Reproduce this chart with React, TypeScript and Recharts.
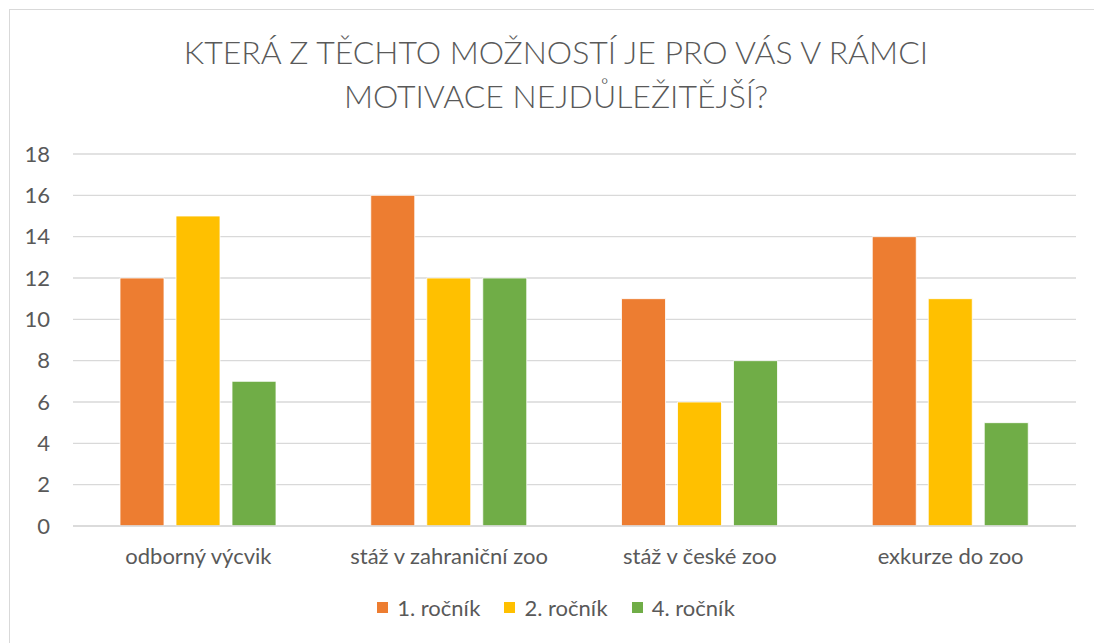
import React from 'react';
import { Bar, BarChart, CartesianGrid, Legend, XAxis, YAxis } from 'recharts';

const categories = ['odborný výcvik', 'stáž v zahraniční zoo', 'stáž v české zoo', 'exkurze do zoo'];
const rocnik1 = [12, 16, 11, 14];
const rocnik2 = [15, 12, 6, 11];
const rocnik4 = [7, 12, 8, 5];
const yTicks = [0, 2, 4, 6, 8, 10, 12, 14, 16, 18];
const titleLines = ['KTERÁ Z TĚCHTO MOŽNOSTÍ JE PRO VÁS V RÁMCI', 'MOTIVACE NEJDŮLEŽITĚJŠÍ?'];

const data = categories.map((name, i) => ({
  name,
  r1: rocnik1[i],
  r2: rocnik2[i],
  r4: rocnik4[i],
}));

const FONT = 'Lato, "Open Sans", sans-serif';
const GREY = '#595959';

const LegendContent = (props: any) => {
  const { payload = [] } = props;
  return (
    <div style={{ display: 'flex', justifyContent: 'center', fontFamily: FONT, fontSize: 22, color: GREY, height: 28 }}>
      {payload.map((p: any) => (
        <div key={p.value} style={{ display: 'flex', alignItems: 'center', margin: '0 12px' }}>
          <span style={{ width: 11, height: 11, background: p.color, display: 'inline-block', marginRight: 9 }} />
          <span>{p.value}</span>
        </div>
      ))}
    </div>
  );
};

export default function App() {
  return (
    <div style={{ position: 'absolute', left: 0, top: 0, width: 1094, height: 643, overflow: 'hidden', background: '#fff' }}>
      <div
        style={{
          position: 'absolute', left: 9, top: 9, width: 1200, height: 700,
          borderLeft: '1px solid #d9d9d9', borderTop: '1px solid #d9d9d9',
        }}
      />
      <div
        style={{
          position: 'absolute', left: 0, top: 30, width: 1112, textAlign: 'center',
          fontFamily: FONT, fontSize: 32, lineHeight: '44px', color: GREY, fontWeight: 300,
        }}
      >
        {titleLines.map((t) => <div key={t}>{t}</div>)}
      </div>
      <div style={{ position: 'absolute', left: 0, top: 0 }}>
        <BarChart
          width={1094}
          height={643}
          data={data}
          margin={{ top: 154, right: 18, left: 0, bottom: 59 }}
          barSize={44}
          barGap={12}
        >
          <CartesianGrid vertical={false} stroke="#d9d9d9" strokeWidth={1.3} />
          <XAxis
            dataKey="name"
            height={30}
            axisLine={{ stroke: '#d9d9d9', strokeWidth: 1.3 }}
            tickLine={false}
            tickMargin={16}
            tick={{ fill: GREY, fontSize: 22, fontFamily: FONT }}
          />
          <YAxis
            width={73}
            domain={[0, 18]}
            ticks={yTicks}
            axisLine={false}
            tickLine={false}
            tickMargin={17}
            tick={{ fill: GREY, fontSize: 22, fontFamily: FONT }}
          />
          <Legend
            verticalAlign="bottom"
            wrapperStyle={{ top: 593, left: 0, width: 1112 }}
            content={<LegendContent />}
          />
          <Bar dataKey="r1" name="1. ročník" fill="#ED7D31" stroke="#fff" strokeWidth={0.8} isAnimationActive={false} />
          <Bar dataKey="r2" name="2. ročník" fill="#FFC000" stroke="#fff" strokeWidth={0.8} isAnimationActive={false} />
          <Bar dataKey="r4" name="4. ročník" fill="#70AD47" stroke="#fff" strokeWidth={0.8} isAnimationActive={false} />
        </BarChart>
      </div>
    </div>
  );
}
